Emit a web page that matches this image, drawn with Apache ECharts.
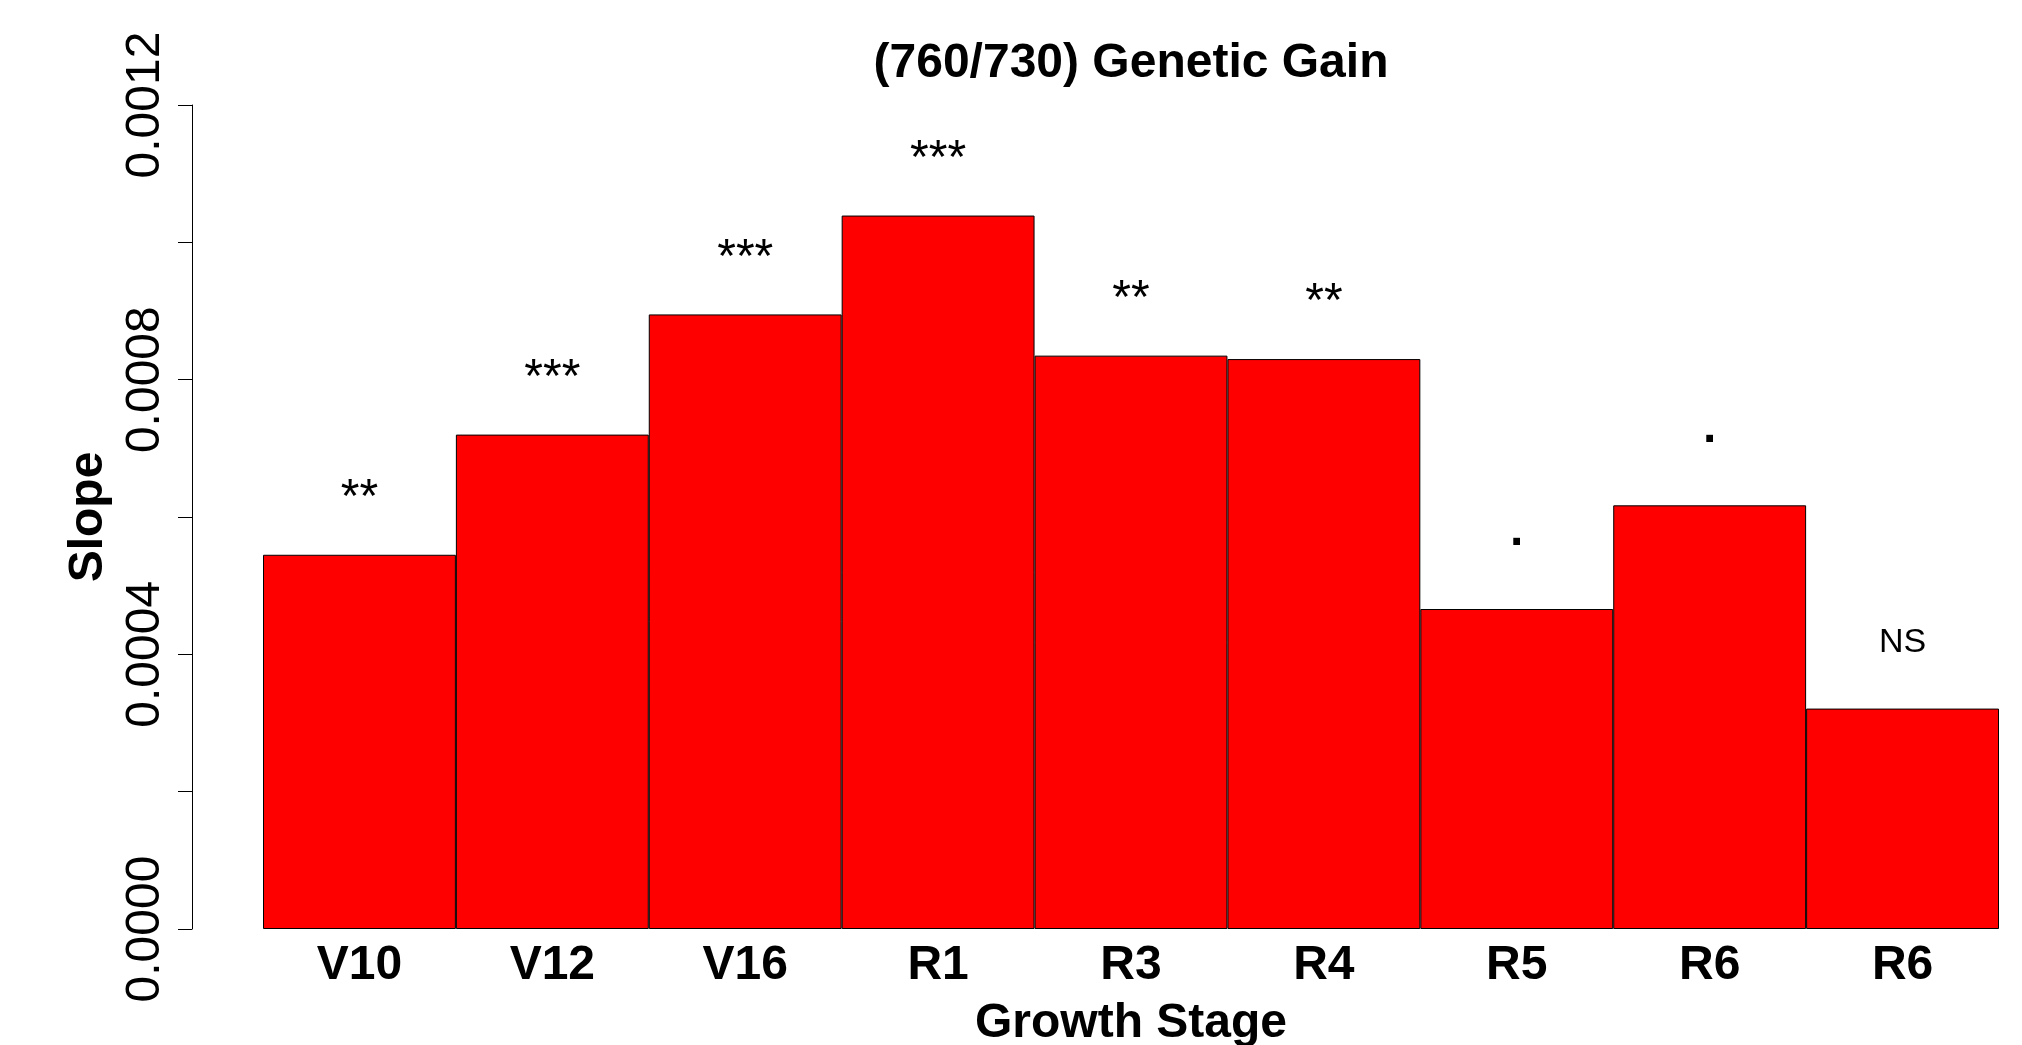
<!DOCTYPE html>
<html>
<head>
<meta charset="utf-8">
<script src="https://cdn.jsdelivr.net/npm/echarts@6/dist/echarts.min.js"></script>
<style>
html,body{margin:0;padding:0;background:#fff;overflow:hidden;}
#chart{width:2022px;height:1045px;}
</style>
</head>
<body>
<div id="chart"></div>
<script>
var categories = ['V10', 'V12', 'V16', 'R1', 'R3', 'R4', 'R5', 'R6', 'R6'];
var slopes = [0.000545, 0.000720, 0.000895, 0.001039, 0.000835, 0.000830, 0.000466, 0.000617, 0.000321];
var significance = ['**', '***', '***', '***', '**', '**', '.', '.', 'NS'];
var yTickLabels = ['0.0000', '0.0004', '0.0008', '0.0012'];

var FONT = "'Liberation Sans', Arial, sans-serif";

function labelStyleFor(sig) {
  if (sig === 'NS') return { fontSize: 34, lineHeight: 34, distance: 49, fontWeight: 'normal' };
  if (sig === '.') return { fontSize: 48, lineHeight: 48, distance: 53, fontWeight: 'bold' };
  return { fontSize: 48, lineHeight: 48, distance: 32, fontWeight: 'normal' };
}

var barData = slopes.map(function (v, i) {
  var s = labelStyleFor(significance[i]);
  return {
    value: v,
    label: {
      show: true, position: 'top', formatter: significance[i],
      fontSize: s.fontSize, lineHeight: s.lineHeight, distance: s.distance,
      color: '#000', fontFamily: FONT, fontWeight: s.fontWeight
    }
  };
});

var chart = echarts.init(document.getElementById('chart'), null, { renderer: 'canvas' });
chart.setOption({
  animation: false,
  backgroundColor: '#ffffff',
  title: {
    text: '(760/730) Genetic Gain',
    left: 1131, textAlign: 'center', top: 40, padding: 0,
    textStyle: { fontSize: 48, lineHeight: 48, fontWeight: 'bold', color: '#000', fontFamily: FONT }
  },
  grid: { left: 263, right: 23, top: 105, bottom: 116, containLabel: false, outerBoundsMode: 'none' },
  xAxis: {
    type: 'category', data: categories, boundaryGap: true,
    axisLine: { show: false }, axisTick: { show: false },
    axisLabel: { interval: 0, margin: 13, fontSize: 48, lineHeight: 48, fontWeight: 'bold', color: '#000', fontFamily: FONT },
    name: 'Growth Stage', nameLocation: 'middle', nameGap: 71,
    nameTextStyle: { fontSize: 48, lineHeight: 48, fontWeight: 'bold', color: '#000', fontFamily: FONT }
  },
  yAxis: {
    type: 'value', min: 0, max: 0.0012, interval: 0.0002, offset: 71,
    axisLine: { show: true, lineStyle: { color: '#000', width: 1 } },
    axisTick: { show: true, length: 14, inside: false, lineStyle: { color: '#000', width: 1 } },
    splitLine: { show: false },
    axisLabel: {
      rotate: 90, margin: 22, fontSize: 48, lineHeight: 48, color: '#000', fontFamily: FONT,
      formatter: function (val) {
        var idx = Math.round(val / 0.0004 * 1e6) / 1e6;
        if (Math.abs(idx - Math.round(idx)) < 1e-6) {
          var k = Math.round(idx);
          return yTickLabels[k] !== undefined ? yTickLabels[k] : '';
        }
        return '';
      }
    },
    name: 'Slope', nameLocation: 'middle', nameRotate: 90, nameGap: 79,
    nameTextStyle: { fontSize: 48, lineHeight: 48, fontWeight: 'bold', color: '#000', fontFamily: FONT }
  },
  series: [{
    type: 'bar', data: barData, barWidth: '100%', barCategoryGap: '0%',
    itemStyle: { color: '#ff0000', borderColor: '#000', borderWidth: 1 }
  }]
});
</script>
</body>
</html>
